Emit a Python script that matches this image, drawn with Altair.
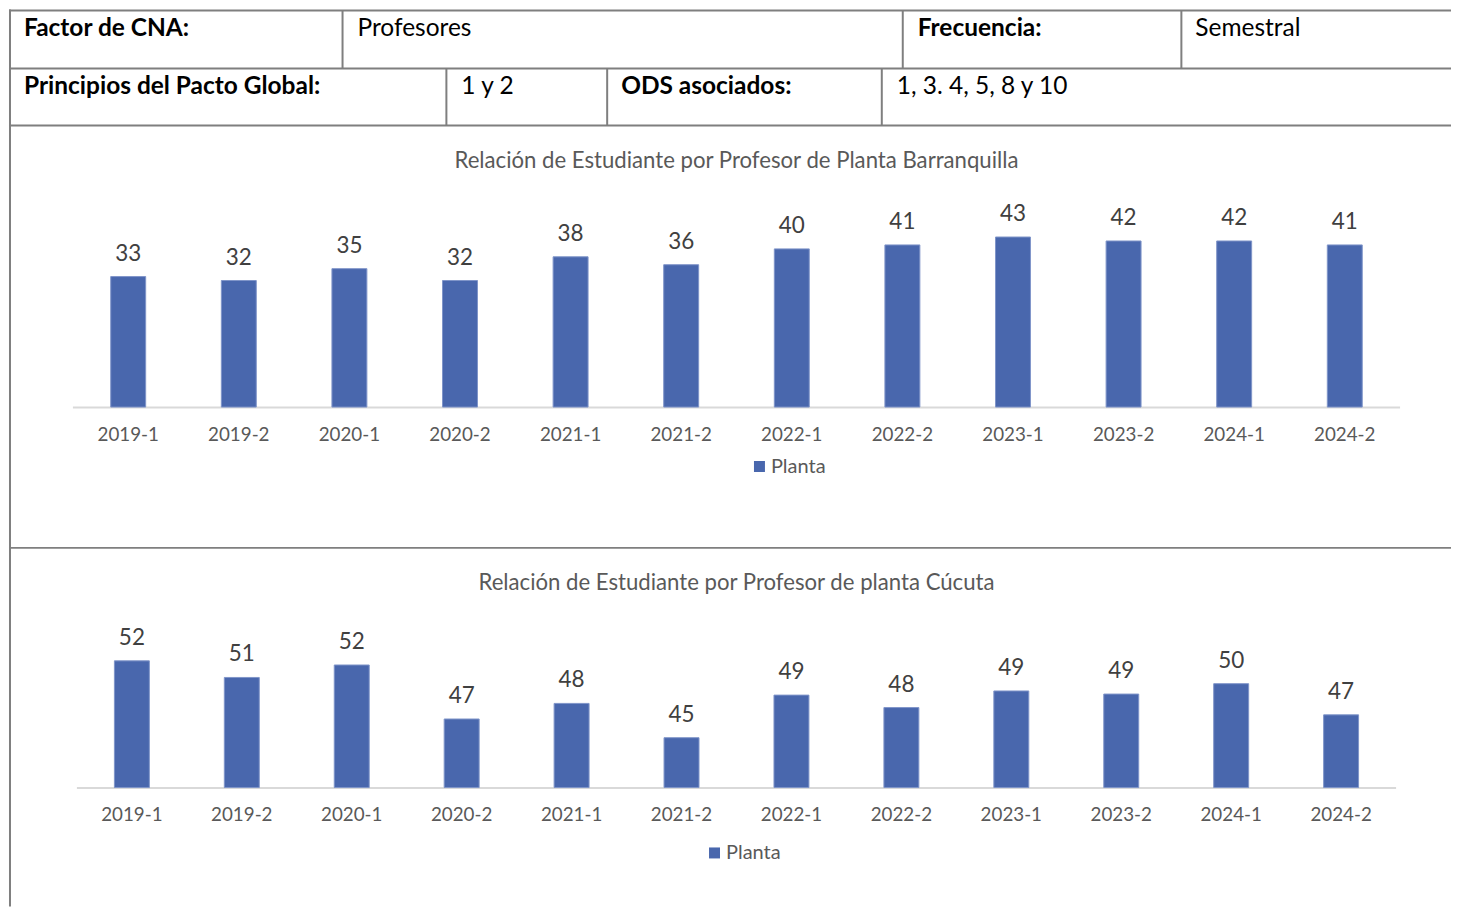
import altair as alt
import pandas as pd

# ---------------- data ----------------
periods = ["2019-1", "2019-2", "2020-1", "2020-2", "2021-1", "2021-2",
           "2022-1", "2022-2", "2023-1", "2023-2", "2024-1", "2024-2"]
barranquilla = [33, 32, 35, 32, 38, 36, 40, 41, 43, 42, 42, 41]
cucuta = [52.2, 50.6, 51.8, 46.6, 48.1, 44.8, 48.9, 47.7, 49.3, 49.0, 50.0, 47.0]

title_baq = "Relación de Estudiante por Profesor de Planta Barranquilla"
title_cuc = "Relación de Estudiante por Profesor de planta Cúcuta"
series_name = "Planta"

header_row1 = [("Factor de CNA:", True), ("Profesores", False),
               ("Frecuencia:", True), ("Semestral", False)]
header_row2 = [("Principios del Pacto Global:", True), ("1 y 2", False),
               ("ODS asociados:", True), ("1, 3. 4, 5, 8 y 10", False)]

df_baq = pd.DataFrame({"periodo": periods, "valor": barranquilla})
df_cuc = pd.DataFrame({"periodo": periods, "valor": cucuta})
dummy = pd.DataFrame({"d": [0]})

# ---------------- styles ----------------
FONT = "Lato"
BAR = "#4967AD"
BAR_EDGE = "#7F95C9"
GRID = "#7F7F7F"
AXIS = "#D9D9D9"
TXT = "#595959"
LBL = "#404040"

W, H = 1444, 898

layers = []

# ---- table borders ----
def hline(y, x1=0, x2=W):
    return alt.Chart(dummy).mark_rule(color=GRID, strokeWidth=2).encode(
        x=alt.value(x1), x2=alt.value(x2), y=alt.value(y))

def vline(x, y1, y2):
    return alt.Chart(dummy).mark_rule(color=GRID, strokeWidth=2).encode(
        x=alt.value(x), y=alt.value(y1), y2=alt.value(y2))

layers += [hline(1, 0), hline(59, 0), hline(116, 0), hline(539, 0),
           vline(1, 0, H),
           vline(334, 1, 59), vline(895, 1, 59), vline(1174, 1, 59),
           vline(438, 59, 116), vline(599, 59, 116), vline(874, 59, 116)]

# ---- table texts ----
row1_x = [15, 349, 910, 1188]
row2_x = [15, 453, 613, 889]
for (txt, bold), x in zip(header_row1, row1_x):
    layers.append(alt.Chart(dummy).mark_text(
        text=txt, font=FONT, fontSize=24.5, fontWeight="bold" if bold else "normal",
        color="#000000", align="left", baseline="middle").encode(
        x=alt.value(x), y=alt.value(19)))
for (txt, bold), x in zip(header_row2, row2_x):
    layers.append(alt.Chart(dummy).mark_text(
        text=txt, font=FONT, fontSize=24.5, fontWeight="bold" if bold else "normal",
        color="#000000", align="left", baseline="middle").encode(
        x=alt.value(x), y=alt.value(77)))


def bar_panel(df, xrange, pad_inner, ydomain, yrange, tick_y, axis_y,
              title, title_y, leg_x, leg_y):
    xs = alt.Scale(domain=periods, range=xrange, paddingInner=pad_inner,
                   paddingOuter=pad_inner / 2)
    ys = alt.Scale(domain=ydomain, range=yrange, zero=False, nice=False)
    base = alt.Chart(df)
    bars = base.mark_bar(color=BAR, stroke=BAR_EDGE, strokeWidth=1).encode(
        x=alt.X("periodo:N", scale=xs, axis=None, sort=periods),
        y=alt.Y("valor:Q", scale=ys, axis=None),
        y2=alt.datum(ydomain[0]),
    )
    labels = base.mark_text(font=FONT, fontSize=22.5, color=LBL,
                            baseline="alphabetic", dy=-16).encode(
        x=alt.X("periodo:N", scale=xs, axis=None, sort=periods),
        y=alt.Y("valor:Q", scale=ys, axis=None),
        text=alt.Text("valor:Q", format=".0f"),
    )
    ticks = base.mark_text(font=FONT, fontSize=18.8, color=TXT,
                           baseline="middle").encode(
        x=alt.X("periodo:N", scale=xs, axis=None, sort=periods),
        y=alt.value(tick_y),
        text="periodo:N",
    )
    axis_line = alt.Chart(dummy).mark_rule(color=AXIS, strokeWidth=2).encode(
        x=alt.value(xrange[0]), x2=alt.value(xrange[1]), y=alt.value(axis_y))
    ttl = alt.Chart(dummy).mark_text(text=title, font=FONT, fontSize=22.2,
                                     color=TXT, baseline="middle").encode(
        x=alt.value(728.5), y=alt.value(title_y))
    sq = alt.Chart(dummy).mark_square(color=BAR, size=121, opacity=1).encode(
        x=alt.value(leg_x), y=alt.value(leg_y))
    leg = alt.Chart(dummy).mark_text(text=series_name, font=FONT, fontSize=20,
                                     color=TXT, align="left",
                                     baseline="middle").encode(
        x=alt.value(leg_x + 11.5), y=alt.value(leg_y + 0.5))
    return alt.layer(axis_line, bars, labels, ticks, ttl, sq, leg)


p1 = bar_panel(df_baq, [64, 1393], 0.684, [0, 50], [398, 398 - 50 * 3.96],
               426, 398.5, title_baq, 152, 751.5, 457.5)
p2 = bar_panel(df_cuc, [68, 1389], 0.682, [40, 54], [779, 779 - 14 * 10.4],
               807, 779.5, title_cuc, 574, 706.5, 844.5)

chart = alt.layer(*layers, p1, p2, data=dummy).resolve_scale(
    x="independent", y="independent"
).properties(width=W, height=H, padding=0).configure_view(strokeWidth=0)

chart.save("out.html", embed_options={"renderer": "svg", "actions": False})
